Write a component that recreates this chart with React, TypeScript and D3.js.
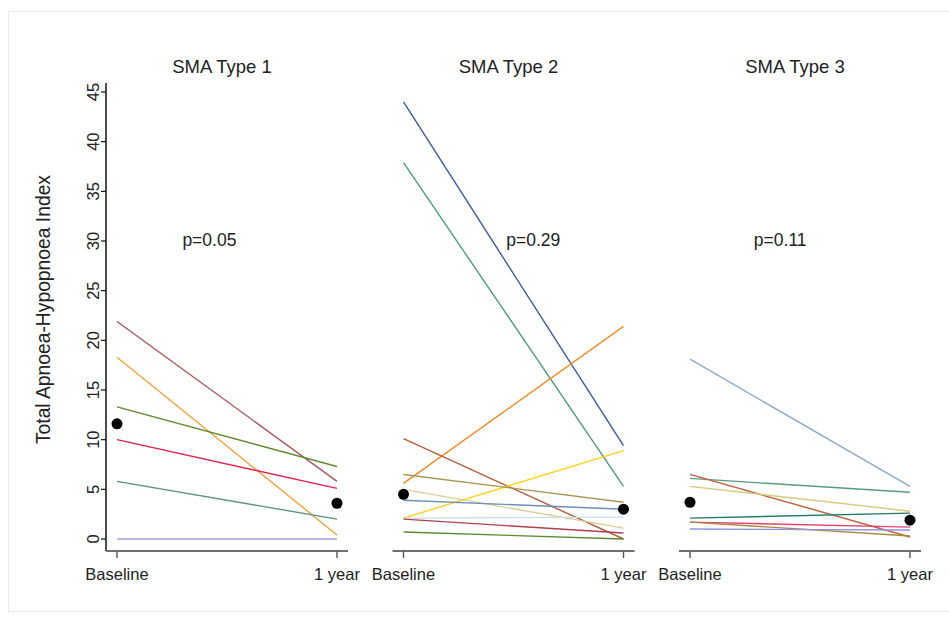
import React from "react";
import * as d3 from "d3";

const timepoints = ["Baseline", "1 year"];
const panelTitles = ["SMA Type 1", "SMA Type 2", "SMA Type 3"];
const pValues = ["p=0.05", "p=0.29", "p=0.11"];
const yTicks = [0, 5, 10, 15, 20, 25, 30, 35, 40, 45];

// Panel 1 individual patients
const type1Baseline = [21.9, 18.3, 13.3, 10.0, 5.8, 0.0];
const type1Year = [5.8, 0.4, 7.3, 5.1, 2.0, 0.0];
// Panel 2
const type2Baseline = [44.0, 37.9, 5.6, 10.1, 2.1, 6.5, 5.0, 3.9, 2.1, 2.0, 0.7];
const type2Year = [9.4, 5.3, 21.4, 0.0, 8.9, 3.7, 1.1, 3.0, 2.2, 0.6, 0.0];
// Panel 3
const type3Baseline = [18.1, 6.1, 6.5, 5.3, 2.1, 1.7, 1.7, 1.0];
const type3Year = [5.3, 4.7, 0.2, 2.8, 2.6, 1.2, 0.3, 0.9];

// Medians (black dots)
const medianBaseline = [11.6, 4.5, 3.7];
const medianYear = [3.6, 3.0, 1.9];

const type1Colors = ["#a8555f", "#f3a03a", "#62892e", "#e0224f", "#5a9479", "#a3a0ee"];
const type2Colors = ["#3b5a9a", "#4d9985", "#f08b2c", "#b65e3c", "#ffd21c", "#a89452", "#d6cf98", "#6f8fb7", "#c9dcec", "#b0404f", "#5a8a30"];
const type3Colors = ["#8fa8c8", "#5b9a80", "#c0603a", "#d8c880", "#217a6a", "#e6406a", "#a88a40", "#9090e8"];

const panelBaselines = [type1Baseline, type2Baseline, type3Baseline];
const panelYears = [type1Year, type2Year, type3Year];
const panelColors = [type1Colors, type2Colors, type3Colors];
const pLabelFrac = [0.42, 0.59, 0.41];

const FONT = "'Liberation Sans', Arial, sans-serif";

export default function App() {
  const W = 949;
  const H = 618;
  const y = d3.scaleLinear().domain([0, 45]).range([539, 92]);
  const axisX = 106;
  const axisY = 551;
  const firstLeft = 117;
  const step = 286.5;
  const pw = 220;

  return (
    <svg
      width={W}
      height={H}
      style={{ position: "absolute", left: 0, top: 0, background: "#fff" }}
      fontFamily={FONT}
    >
      <rect x={8.5} y={11.5} width={W} height={600} fill="none" stroke="#e4ecec" strokeWidth={1} />

      {/* Y axis */}
      <line x1={axisX} x2={axisX} y1={y(45.9)} y2={axisY} stroke="#111" strokeWidth={1.5} />
      {yTicks.map((t) => (
        <g key={t}>
          <line x1={axisX - 5} x2={axisX} y1={y(t)} y2={y(t)} stroke="#111" strokeWidth={1.2} />
          <text
            transform={`translate(${axisX - 7},${y(t)}) rotate(-90)`}
            textAnchor="middle"
            fontSize={16.5}
            fill="#222"
          >
            {t}
          </text>
        </g>
      ))}
      <text
        transform={`translate(50,${y(23.1)}) rotate(-90)`}
        textAnchor="middle"
        fontSize={19.3}
        fill="#222"
      >
        Total Apnoea-Hypopnoea Index
      </text>

      {panelTitles.map((title, i) => {
        const left = firstLeft + step * i;
        const x = d3.scalePoint<string>().domain(timepoints).range([left, left + pw]);
        const line = d3
          .line<[string, number]>()
          .x((d) => x(d[0]) as number)
          .y((d) => y(d[1]));
        const bl = panelBaselines[i];
        const yr = panelYears[i];
        const cols = panelColors[i];
        const axStart = i === 0 ? axisX : left - 11;
        return (
          <g key={title}>
            <text x={left + pw / 2 - 5} y={73} textAnchor="middle" fontSize={18.5} fill="#222">
              {title}
            </text>
            <text
              x={left + pw * pLabelFrac[i]}
              y={y(29.5)}
              textAnchor="middle"
              fontSize={17.5}
              fill="#222"
            >
              {pValues[i]}
            </text>
            {/* x axis */}
            <line x1={axStart} x2={left + pw + 11} y1={axisY} y2={axisY} stroke="#6f6f6f" strokeWidth={2} />
            {timepoints.map((tp) => (
              <g key={tp}>
                <line
                  x1={x(tp) as number}
                  x2={x(tp) as number}
                  y1={axisY}
                  y2={axisY + 7}
                  stroke="#555"
                  strokeWidth={1.4}
                />
                <text x={x(tp) as number} y={580} textAnchor="middle" fontSize={16.5} fill="#222">
                  {tp}
                </text>
              </g>
            ))}
            {bl.map((b, j) => (
              <path
                key={j}
                d={line([
                  [timepoints[0], b],
                  [timepoints[1], yr[j]],
                ]) as string}
                fill="none"
                stroke={cols[j]}
                strokeWidth={1.4}
              />
            ))}
            <circle cx={x(timepoints[0]) as number} cy={y(medianBaseline[i])} r={5.5} fill="#000" />
            <circle cx={x(timepoints[1]) as number} cy={y(medianYear[i])} r={5.5} fill="#000" />
          </g>
        );
      })}
    </svg>
  );
}
